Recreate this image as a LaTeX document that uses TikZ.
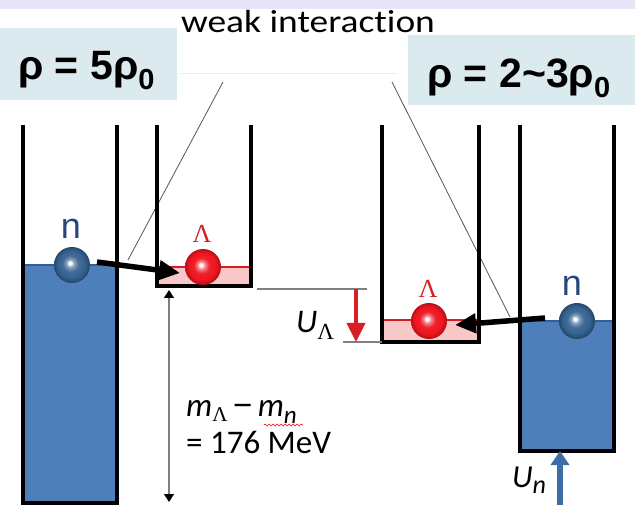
\documentclass[tikz,border=0pt]{standalone}
\usepackage{fontspec}
\setmainfont{Carlito}[Ligatures={TeX,NoCommon}]
\newfontfamily\arialf{Liberation Sans}
\newfontfamily\timesf{Liberation Serif}
\usetikzlibrary{arrows.meta,decorations.pathmorphing}
\definecolor{wellblue}{HTML}{4F7FBA}
\definecolor{edgeblue}{HTML}{2F5F9A}
\definecolor{pinkfill}{HTML}{F8C8C8}
\definecolor{levelred}{HTML}{D91E23}
\definecolor{tealbox}{HTML}{DBEAEE}
\definecolor{bandlav}{HTML}{E6E6F8}
\definecolor{nballc}{HTML}{34618F}
\definecolor{lballc}{HTML}{EE1520}
\definecolor{nlabc}{HTML}{27477A}
\definecolor{arrblue}{HTML}{3C6DA6}
\definecolor{thingray}{HTML}{555555}
\definecolor{levgray}{HTML}{808080}
\pgfdeclareradialshading{nshade}{\pgfpoint{-3bp}{3bp}}{color(0bp)=(white); color(2bp)=(white); color(5bp)=(nballc!55!white); color(11bp)=(nballc!92!white); color(19bp)=(nballc); color(25bp)=(nballc!72!black); color(30bp)=(nballc!72!black)}
\pgfdeclareradialshading{lshade}{\pgfpoint{-3bp}{3bp}}{color(0bp)=(white); color(2bp)=(white); color(5bp)=(lballc!50!white); color(11bp)=(lballc!95!white); color(19bp)=(lballc); color(25bp)=(lballc!75!black); color(30bp)=(lballc!75!black)}
\tikzset{
  wall/.style={line width=3.3pt, black, line join=miter},
  redlevel/.style={line width=2pt, levelred},
  ballnode/.style={circle, minimum size=36pt, inner sep=0pt},
  nlab/.style={text=nlabc, font=\arialf\fontsize{36}{36}\selectfont, inner sep=0pt},
  llab/.style={text=levelred, font=\timesf\fontsize{26}{26}\selectfont, inner sep=0pt},
  bigarrow/.style={line width=5.5pt, black, -{Triangle[length=21pt,width=19pt]}},
  thinline/.style={thingray, line width=0.8pt},
  levline/.style={levgray, line width=1.2pt},
  rholab/.style={anchor=base west, inner sep=0pt, font=\arialf\bfseries\fontsize{41}{41}\selectfont},
  txt/.style={anchor=base west, inner sep=0pt}
}
\begin{document}
\begin{tikzpicture}[x=1pt,y=-1pt]
\useasboundingbox (0,0) rectangle (635,505);
% background pieces
\fill[bandlav] (0,0) rectangle (635,9);
\fill[tealbox] (0,28) rectangle (177,100);
\fill[tealbox] (408,35) rectangle (635,105);
\node[rholab] (rho1) at (18,80) {ρ = 5ρ\raisebox{-10pt}{\fontsize{29}{29}\selectfont 0}};
\node[rholab] (rho2) at (427,88) {ρ = 2\char"007E 3ρ\raisebox{-10pt}{\fontsize{29}{29}\selectfont 0}};
\node[anchor=base, inner sep=0pt, font=\fontsize{32}{32}\selectfont] (weak) at (308,33) {\scalebox{1.17}[1]{weak interaction}};
\draw[black!7, line width=1pt] (180,74) -- (398,74);
% thin lines from weak interaction
\coordinate (wl1) at (223,82);
\coordinate (wl2) at (128,260);
\coordinate (wr1) at (392,82);
\coordinate (wr2) at (510,317);
\draw[thinline] (wl1) -- (wl2);
\draw[thinline] (wr1) -- (wr2);
% left neutron well
\fill[wellblue] (23,265) rectangle (117,503);
\draw[edgeblue, line width=1.2pt] (23,265) -- (117,265);
\draw[wall] (23,125) -- (23,503) -- (117,503) -- (117,125);
% left lambda well
\fill[pinkfill] (157,267) rectangle (251,286);
\draw[redlevel] (157,267) -- (251,267);
\draw[wall] (157,125) -- (157,286) -- (251,286) -- (251,125);
% right lambda well
\fill[pinkfill] (382,320) rectangle (479,342);
\draw[redlevel] (382,320) -- (479,320);
\draw[wall] (382,125) -- (382,342) -- (479,342) -- (479,125);
% right neutron well
\fill[wellblue] (520,321) rectangle (614,451);
\draw[edgeblue, line width=1.2pt] (520,321) -- (614,321);
\draw[wall] (520,125) -- (520,451) -- (614,451) -- (614,125);
% balls and labels
\node[ballnode, shading=nshade] (n1) at (72,265) {};
\node[ballnode, shading=lshade] (L1) at (203,267) {};
\node[ballnode, shading=lshade] (L2) at (429,321) {};
\node[ballnode, shading=nshade] (n2) at (577,321) {};
\node[nlab] (n1lab) at (71,229) {n};
\node[nlab] (n2lab) at (572,286) {n};
\node[llab] (L1lab) at (202,234) {Λ};
\node[llab] (L2lab) at (428,289) {Λ};
% conversion arrows
\draw[bigarrow] ([shift={(25,-3)}]n1.center) -- ([shift={(-23,6)}]L1.center);
\draw[bigarrow] ([shift={(-32,-3)}]n2.center) -- ([shift={(26,4)}]L2.center);
% level lines and U_Lambda
\coordinate (lv1a) at (257,289);
\coordinate (lv1b) at (367,289);
\coordinate (lv2a) at (343,342);
\coordinate (lv2b) at (382,342);
\draw[levline] (lv1a) -- (lv1b);
\draw[levline] (lv2a) -- (lv2b);
\coordinate (ua1) at (356,289);
\coordinate (ua2) at (356,342);
\draw[levelred, line width=4pt, -{Triangle[length=19pt,width=18pt]}] (ua1) -- (ua2);
\node[txt, font=\fontsize{33}{33}\selectfont] (ulam) at (296,332) {\itshape U\raisebox{-7pt}[0pt][0pt]{\upshape\timesf\fontsize{23}{23}\selectfont Λ}};
% mass difference arrow
\coordinate (md1) at (169,290);
\coordinate (md2) at (169,502);
\draw[levgray, line width=1.3pt, {Triangle[length=8pt,width=10pt,black]}-{Triangle[length=8pt,width=10pt,black]}] (md1) -- (md2);
\node[txt, font=\fontsize{33}{33}\selectfont] (mdiff) at (186,416) {\itshape m\raisebox{-5pt}[0pt][0pt]{\upshape\timesf\fontsize{21}{21}\selectfont Λ}\upshape\,{\arialf −}\,\itshape m\raisebox{-7pt}[0pt][0pt]{\fontsize{25}{25}\selectfont n}};
\coordinate (wv1) at (264,425);
\coordinate (wv2) at (303,425);
\draw[red, line width=0.6pt, decorate, decoration={snake, amplitude=1pt, segment length=4pt}] (wv1) -- (wv2);
\node[txt, font=\fontsize{33}{33}\selectfont] (mval) at (186,453) {= 176 MeV};
% U_n arrow
\coordinate (unb) at (560,505);
\coordinate (unt) at (560,451);
\draw[arrblue, line width=6pt, -{Triangle[length=14pt,width=18pt]}] (unb) -- (unt);
\node[txt, font=\fontsize{32}{32}\selectfont] (un) at (512,487) {\itshape U\raisebox{-6pt}[0pt][0pt]{\fontsize{26}{26}\selectfont n}};
\end{tikzpicture}
\end{document}
